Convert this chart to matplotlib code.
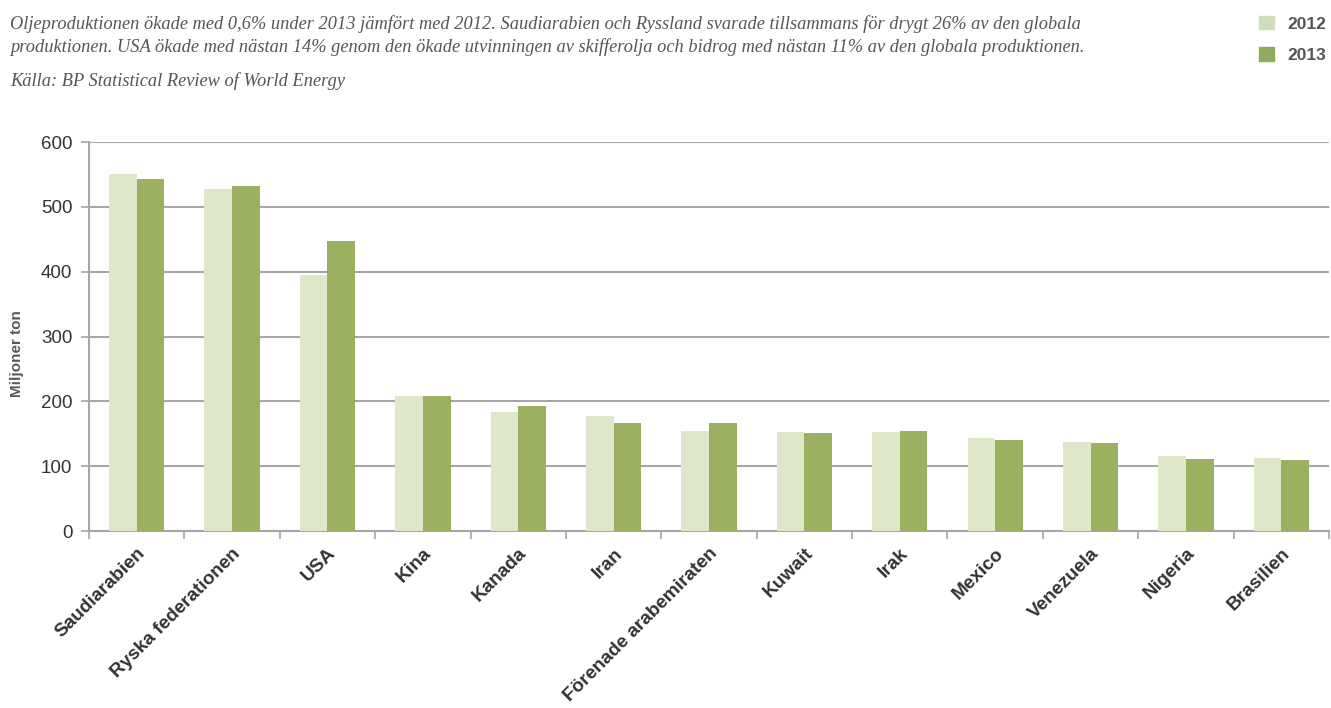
import numpy as np
import matplotlib.pyplot as plt
from matplotlib.patches import Patch

plt.rcParams["font.family"] = ["Liberation Sans", "DejaVu Sans"]

# -- Data (miljoner ton)
countries = ["Saudiarabien", "Ryska federationen", "USA", "Kina", "Kanada", "Iran",
             "Förenade arabemiraten", "Kuwait", "Irak", "Mexico", "Venezuela",
             "Nigeria", "Brasilien"]
prod_2012 = [550, 527, 395, 208, 183, 177, 155, 153, 153, 144, 137, 116, 113]
prod_2013 = [543, 532, 447, 209, 193, 166, 166, 151, 154, 141, 135, 111, 110]
years = ["2012", "2013"]

c12 = "#dfe7c9"
c13 = "#9cb061"
grey = "#a6a6a6"

fig = plt.figure(figsize=(13.31, 7.08), dpi=100)
ax = fig.add_axes([0.0669, 0.25, 0.9316, 0.5494])

x = np.arange(len(countries))
w = 0.29
ax.bar(x - w/2, prod_2012, width=w, color=c12, zorder=3)
ax.bar(x + w/2, prod_2013, width=w, color=c13, zorder=3)

ax.set_xlim(-0.5, len(countries) - 0.5)
ax.set_ylim(0, 600)
ax.set_yticks(range(0, 601, 100))
ax.tick_params(axis="y", length=6, width=1.2, color=grey, labelsize=13.5,
               labelcolor="#333333", pad=6)
ax.yaxis.grid(True, color=grey, linewidth=1.5, zorder=0)

ax.set_xticks(x)
ax.set_xticklabels(countries, rotation=45, ha="right", rotation_mode="anchor",
                   fontweight="bold", fontsize=13.7, color="#333333")
ax.set_xticks(np.arange(-0.5, len(countries)), minor=True)
ax.tick_params(axis="x", which="major", length=0, pad=10)
ax.tick_params(axis="x", which="minor", length=6, width=1.2, color=grey)

for s in ["top", "right"]:
    ax.spines[s].set_visible(False)
for s in ["left", "bottom"]:
    ax.spines[s].set_color(grey)
    ax.spines[s].set_linewidth(1.5)

fig.text(17 / 1331, 1 - 354 / 708, "Miljoner ton", rotation=90, ha="center", va="center",
         fontsize=11, fontweight="bold", color="#595959")

# -- Header text
serif = dict(family="Liberation Serif", style="italic", color="#555555", fontsize=13.2)
fig.text(0.0075, 0.966, "Oljeproduktionen ökade med 0,6% under 2013 jämfört med 2012. "
         "Saudiarabien och Ryssland svarade tillsammans för drygt 26% av den globala",
         va="center", **serif)
fig.text(0.0075, 0.934, "produktionen. USA ökade med nästan 14% genom den ökade utvinningen "
         "av skifferolja och bidrog med nästan 11% av den globala produktionen.",
         va="center", **serif)
fig.text(0.0075, 0.886, "Källa: BP Statistical Review of World Energy", va="center", **serif)

# -- Legend
handles = [Patch(color="#cddcb9"), Patch(color="#8fab5f")]
leg = fig.legend(handles, years, loc="upper right", bbox_to_anchor=(1.008, 1.0),
                 frameon=False, handlelength=0.85, handleheight=0.85,
                 prop=dict(weight="bold", size=12.5), labelspacing=0.9,
                 handletextpad=0.75)
for t in leg.get_texts():
    t.set_color("#555555")

fig.savefig("out.png", dpi=100)
